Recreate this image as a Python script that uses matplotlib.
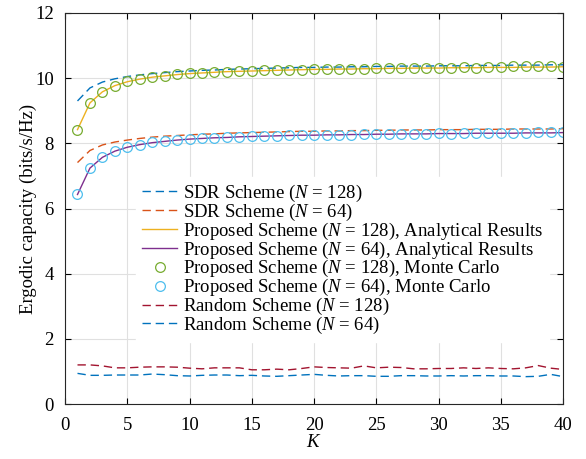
import numpy as np
import matplotlib
matplotlib.use("Agg")
import matplotlib.pyplot as plt

plt.rcParams['font.family'] = ['Liberation Serif', 'DejaVu Serif']
plt.rcParams['mathtext.fontset'] = 'custom'
plt.rcParams['mathtext.rm'] = 'Liberation Serif'
plt.rcParams['mathtext.it'] = 'Liberation Serif:italic'

# number of users
K = np.arange(1, 41)

sdr_128 = [9.30, 9.70, 9.88, 9.98, 10.05, 10.10, 10.14, 10.17, 10.20, 10.22,
           10.24, 10.25, 10.27, 10.28, 10.29, 10.30, 10.31, 10.32, 10.33, 10.33,
           10.34, 10.34, 10.35, 10.35, 10.36, 10.36, 10.37, 10.37, 10.37, 10.38,
           10.38, 10.38, 10.39, 10.39, 10.39, 10.40, 10.40, 10.40, 10.41, 10.41]
sdr_64 = [7.41, 7.78, 7.95, 8.04, 8.10, 8.15, 8.19, 8.22, 8.24, 8.26,
          8.28, 8.29, 8.31, 8.32, 8.33, 8.34, 8.35, 8.36, 8.37, 8.37,
          8.38, 8.38, 8.39, 8.39, 8.40, 8.40, 8.41, 8.41, 8.41, 8.42,
          8.42, 8.42, 8.43, 8.43, 8.43, 8.44, 8.44, 8.44, 8.44, 8.45]
prop_128_ana = [8.42, 9.24, 9.58, 9.77, 9.89, 9.97, 10.03, 10.07, 10.11, 10.14,
                10.16, 10.18, 10.20, 10.21, 10.22, 10.23, 10.24, 10.25, 10.26, 10.27,
                10.27, 10.28, 10.28, 10.29, 10.29, 10.30, 10.30, 10.31, 10.31, 10.31,
                10.32, 10.32, 10.32, 10.33, 10.33, 10.33, 10.34, 10.34, 10.34, 10.35]
prop_64_ana = [6.43, 7.24, 7.57, 7.76, 7.88, 7.96, 8.02, 8.06, 8.10, 8.13,
               8.15, 8.17, 8.18, 8.20, 8.21, 8.22, 8.23, 8.24, 8.25, 8.25,
               8.26, 8.26, 8.27, 8.27, 8.28, 8.28, 8.29, 8.29, 8.29, 8.30,
               8.30, 8.30, 8.31, 8.31, 8.31, 8.31, 8.32, 8.32, 8.32, 8.33]
prop_128_mc = [8.42, 9.24, 9.59, 9.77, 9.90, 9.96, 10.03, 10.07, 10.12, 10.15,
               10.16, 10.18, 10.20, 10.21, 10.22, 10.24, 10.24, 10.25, 10.26, 10.27,
               10.27, 10.29, 10.28, 10.29, 10.30, 10.30, 10.31, 10.31, 10.32, 10.31,
               10.32, 10.33, 10.32, 10.33, 10.34, 10.36, 10.36, 10.37, 10.36, 10.35]
prop_64_mc = [6.43, 7.24, 7.58, 7.77, 7.89, 7.96, 8.04, 8.07, 8.11, 8.14,
              8.15, 8.17, 8.19, 8.20, 8.23, 8.23, 8.24, 8.25, 8.26, 8.27,
              8.26, 8.27, 8.27, 8.28, 8.28, 8.29, 8.30, 8.29, 8.30, 8.31,
              8.30, 8.31, 8.31, 8.32, 8.32, 8.33, 8.33, 8.34, 8.35, 8.35]
rand_128 = [1.20, 1.20, 1.17, 1.11, 1.11, 1.13, 1.14, 1.14, 1.13, 1.10,
            1.08, 1.11, 1.11, 1.11, 1.05, 1.05, 1.07, 1.05, 1.09, 1.14,
            1.12, 1.11, 1.10, 1.17, 1.11, 1.13, 1.12, 1.08, 1.08, 1.09,
            1.09, 1.11, 1.09, 1.11, 1.09, 1.08, 1.11, 1.18, 1.10, 1.06]
rand_64 = [0.94, 0.88, 0.88, 0.89, 0.89, 0.89, 0.92, 0.90, 0.87, 0.86,
           0.88, 0.89, 0.89, 0.87, 0.88, 0.86, 0.85, 0.87, 0.89, 0.91,
           0.88, 0.86, 0.87, 0.87, 0.85, 0.85, 0.87, 0.87, 0.86, 0.86,
           0.87, 0.86, 0.87, 0.87, 0.86, 0.86, 0.84, 0.85, 0.91, 0.84]

fig = plt.figure(figsize=(5.86, 4.59), dpi=100)
ax = fig.add_axes([0.111, 0.1198, 0.85, 0.8519])

dash = (0, (6, 3.5))
ax.plot(K, sdr_128, color='#0072BD', ls=dash, lw=1.0, label='SDR Scheme ($N$ = 128)')
ax.plot(K, sdr_64, color='#D95319', ls=dash, lw=1.0, label='SDR Scheme ($N$ = 64)')
ax.plot(K, prop_128_ana, color='#EDB120', lw=1.0,
        label='Proposed Scheme ($N$ = 128), Analytical Results')
ax.plot(K, prop_64_ana, color='#7E2F8E', lw=1.0,
        label='Proposed Scheme ($N$ = 64), Analytical Results')
ax.plot(K, prop_128_mc, ls='none', marker='o', ms=7, mfc='none', mec='#77AC30', mew=0.9,
        label='Proposed Scheme ($N$ = 128), Monte Carlo')
ax.plot(K, prop_64_mc, ls='none', marker='o', ms=7, mfc='none', mec='#4DBEEE', mew=0.9,
        label='Proposed Scheme ($N$ = 64), Monte Carlo')
ax.plot(K, rand_128, color='#A2142F', ls=dash, lw=1.0, label='Random Scheme ($N$ = 128)')
ax.plot(K, rand_64, color='#0072BD', ls=dash, lw=1.0, label='Random Scheme ($N$ = 64)')

ax.set_xlim(0, 40)
ax.set_ylim(0, 12)
ax.set_xticks(range(0, 41, 5))
ax.set_yticks(range(0, 13, 2))
ax.tick_params(direction='in', top=True, right=True, labelsize=13.5, length=4, width=0.8)
ax.tick_params(axis='x', pad=9)
ax.tick_params(axis='y', pad=8)
ax.grid(True, color='#e0e0e0', lw=0.8)
ax.set_axisbelow(True)
for s in ax.spines.values():
    s.set_linewidth(0.8)
    s.set_color('#262626')

ax.set_xlabel('$K$', fontsize=13.5, labelpad=0)
ax.set_ylabel('Ergodic capacity (bits/s/Hz)', fontsize=13.5, labelpad=-1)

# rows packed tightly, legend box is white without a visible edge
leg = ax.legend(loc='upper left', bbox_to_anchor=(0.1426, 0.58), borderaxespad=0,
                fontsize=13.5, frameon=True, fancybox=False, edgecolor='white',
                framealpha=1, handlelength=1.9, handletextpad=0.3,
                labelspacing=-0.12, borderpad=0.3)

fig.savefig('out.png', dpi=100)
